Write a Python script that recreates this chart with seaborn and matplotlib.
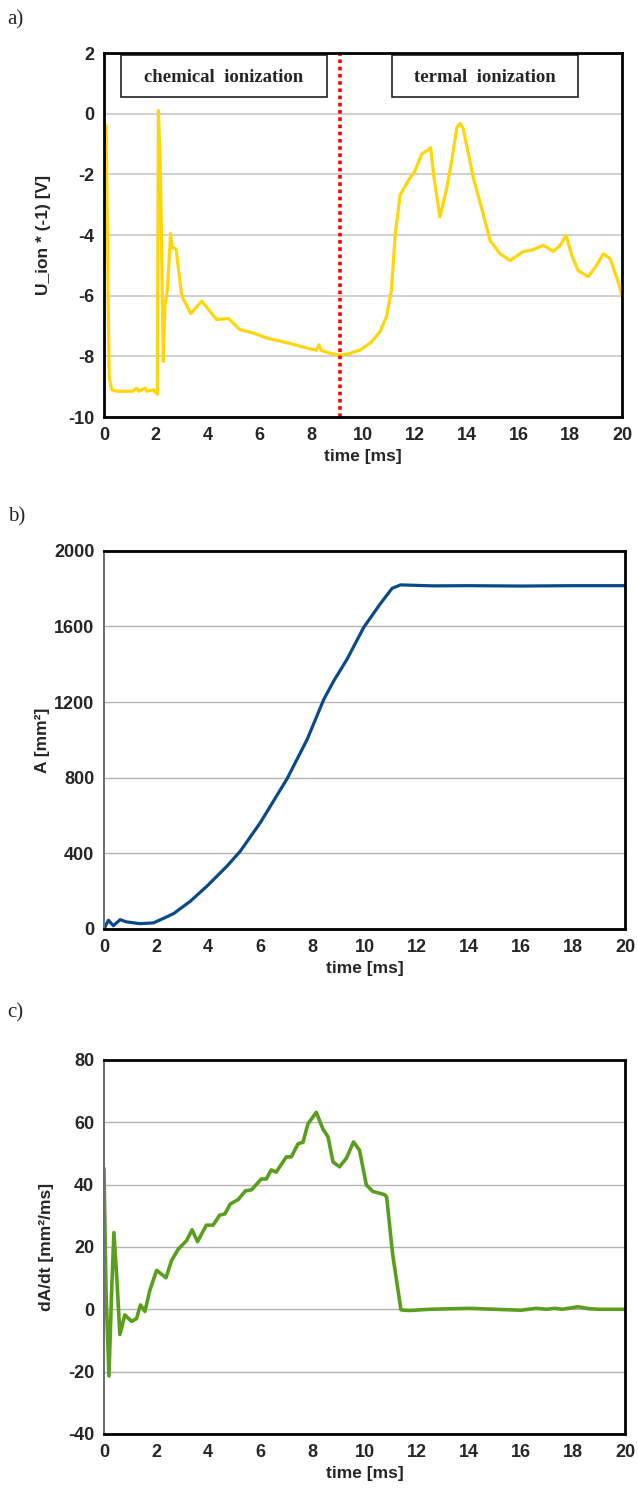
import numpy as np
import pandas as pd
import matplotlib
matplotlib.use("Agg")
import matplotlib.pyplot as plt
import seaborn as sns
from matplotlib import font_manager

# panel a) ion current signal
t_ion = [0.0, 0.08, 0.2, 0.3, 0.5, 0.8, 1.1, 1.26, 1.35, 1.58, 1.65, 1.9, 2.06, 2.1, 2.18,
         2.29, 2.35, 2.45, 2.57, 2.62, 2.78, 3.0, 3.35, 3.77, 4.35, 4.8, 5.25, 5.77, 6.3, 6.8,
         7.3, 7.8, 8.2, 8.3, 8.38, 8.73, 9.11, 9.5, 9.88, 10.3, 10.66, 10.91, 11.1, 11.24,
         11.43, 11.81, 12.0, 12.27, 12.46, 12.61, 12.74, 12.97, 13.23, 13.42, 13.62, 13.75,
         13.87, 14.26, 14.65, 14.9, 15.29, 15.68, 16.19, 16.51, 16.96, 17.35, 17.61, 17.84,
         18.06, 18.31, 18.7, 18.96, 19.28, 19.54, 19.82, 20.0]
u_ion = [-0.3, -0.4, -8.7, -9.1, -9.15, -9.15, -9.15, -9.05, -9.15, -9.05, -9.15, -9.1, -9.25,
         0.1, -2.0, -8.17, -6.33, -5.8, -3.96, -4.4, -4.46, -6.0, -6.59, -6.18, -6.79, -6.75,
         -7.12, -7.23, -7.4, -7.5, -7.6, -7.72, -7.8, -7.62, -7.8, -7.9, -7.96, -7.9, -7.79,
         -7.55, -7.18, -6.68, -5.79, -4.01, -2.68, -2.12, -1.9, -1.32, -1.23, -1.12, -2.12,
         -3.4, -2.46, -1.57, -0.46, -0.32, -0.5, -2.12, -3.34, -4.18, -4.62, -4.84, -4.54,
         -4.5, -4.34, -4.54, -4.34, -4.01, -4.68, -5.18, -5.37, -5.07, -4.62, -4.78, -5.46, -6.0]

# panel b) flame area
t_area = [0.0, 0.17, 0.36, 0.62, 0.87, 1.38, 1.9, 2.41, 2.67, 3.31, 3.95, 4.72, 5.23, 6.0,
          7.03, 7.8, 8.44, 8.82, 9.33, 9.97, 10.6, 11.06, 11.38, 12.67, 14.0, 16.0, 18.0, 20.0]
area = [0, 46, 17, 49, 37, 28, 32, 64, 81, 146, 226, 332, 411, 562, 795, 1003, 1215, 1312,
        1427, 1595, 1719, 1802, 1820, 1815, 1816, 1814, 1816, 1816]

# panel c) area growth rate
t_rate = [0.0, 0.08, 0.19, 0.29, 0.38, 0.49, 0.61, 0.8, 1.06, 1.25, 1.4, 1.57, 1.76, 2.02,
          2.38, 2.59, 2.85, 3.17, 3.38, 3.59, 3.93, 4.19, 4.44, 4.64, 4.85, 5.15, 5.43, 5.66,
          6.04, 6.23, 6.42, 6.61, 7.0, 7.19, 7.45, 7.64, 7.83, 8.15, 8.4, 8.6, 8.79, 9.04,
          9.3, 9.58, 9.81, 10.07, 10.32, 10.77, 10.85, 11.08, 11.4, 11.72, 12.5, 13.5, 14.0,
          15.0, 16.0, 16.6, 17.0, 17.3, 17.6, 18.2, 18.6, 19.0, 20.0]
rate = [45.2, 5.0, -21.4, 5.0, 24.6, 10.3, -8.1, -1.8, -3.9, -3.0, 1.4, -0.7, 6.1, 12.5,
        10.1, 15.6, 19.3, 22.0, 25.5, 21.7, 27.0, 27.0, 30.2, 30.6, 33.8, 35.2, 38.0, 38.3,
        41.8, 41.8, 44.7, 44.0, 48.9, 48.9, 53.1, 53.6, 59.5, 63.2, 57.9, 55.3, 47.3, 45.7,
        48.4, 53.7, 51.0, 39.9, 37.8, 36.8, 36.0, 17.7, -0.2, -0.4, 0.0, 0.2, 0.3,
        0.0, -0.3, 0.3, 0.0, 0.3, 0.0, 0.8, 0.2, 0.0, 0.0]

sns.set_style("white")
names = {f.name for f in font_manager.fontManager.ttflist}
sans = "Liberation Sans Narrow" if "Liberation Sans Narrow" in names else "Liberation Sans"
plt.rcParams["font.family"] = [sans, "DejaVu Sans"]
plt.rcParams["axes.unicode_minus"] = False

fig = plt.figure(figsize=(6.38, 14.99), dpi=100)
ax_a = fig.add_axes([0.163, 0.7218, 0.812, 0.2428])
ax_b = fig.add_axes([0.163, 0.3803, 0.8166, 0.2522])
ax_c = fig.add_axes([0.163, 0.0434, 0.8166, 0.2495])

sns.lineplot(x=t_ion, y=u_ion, ax=ax_a, color="#FFD60A", linewidth=2.3)
sns.lineplot(x=t_area, y=area, ax=ax_b, color="#0B4A8A", linewidth=2.3)
sns.lineplot(x=t_rate, y=rate, ax=ax_c, color="#5A9E1E", linewidth=2.6)

ax_a.set_ylim(-10, 2)
ax_a.set_yticks(np.arange(-10, 3, 2))
ax_b.set_ylim(0, 2000)
ax_b.set_yticks(np.arange(0, 2001, 400))
ax_c.set_ylim(-40, 80)
ax_c.set_yticks(np.arange(-40, 81, 20))

for ax in (ax_a, ax_b, ax_c):
    ax.set_xlim(0, 20)
    ax.set_xticks(np.arange(0, 21, 2))
    ax.grid(axis="y", color="#c8c8c8", linewidth=1.2)
    ax.grid(axis="x", visible=False)
    ax.set_axisbelow(True)
    ax.tick_params(axis="both", labelsize=13, length=4, width=1, color="#808080",
                   direction="out", pad=3)
    for lab in ax.get_xticklabels() + ax.get_yticklabels():
        lab.set_fontweight("bold")
    ax.set_xlabel("time [ms]", fontsize=12.5, fontweight="bold", labelpad=4)
    for s in ax.spines.values():
        s.set_visible(True)
        s.set_color("black")
        s.set_linewidth(2.0)

ax_a.set_ylabel("U_ion * (-1) [V]", fontsize=12.5, fontweight="bold", labelpad=12)
ax_b.set_ylabel("A [mm\u00b2]", fontsize=12.5, fontweight="bold", labelpad=3)
ax_c.set_ylabel("dA/dt [mm\u00b2/ms]", fontsize=12.5, fontweight="bold", labelpad=10)
for ax in (ax_b, ax_c):
    ax.spines["left"].set_color("#707070")
    ax.spines["left"].set_linewidth(1.5)
    ax.grid(axis="y", color="#b4b4b4", linewidth=1.0)

# boundary between chemical and thermal ionization
ax_a.axvline(9.11, color="red", linestyle=(0, (1, 1)), linewidth=2.6)

ax_a.add_patch(plt.Rectangle((0.65, 0.55), 7.95, 1.40, transform=ax_a.transData,
                             facecolor="white", edgecolor="#222222", linewidth=1.2))
ax_a.add_patch(plt.Rectangle((11.1, 0.55), 7.2, 1.40, transform=ax_a.transData,
                             facecolor="white", edgecolor="#222222", linewidth=1.2))
ax_a.text(4.62, 1.2, "chemical  ionization", ha="center", va="center",
          family="Liberation Serif", fontweight="bold", fontsize=13.5)
ax_a.text(14.7, 1.2, "termal  ionization", ha="center", va="center",
          family="Liberation Serif", fontweight="bold", fontsize=13.5)

for letter, y in (("a)", 0.987), ("b)", 0.655), ("c)", 0.324)):
    fig.text(0.012, y, letter, family="Liberation Serif", fontsize=15, va="center")

fig.savefig("out.png", dpi=100)
